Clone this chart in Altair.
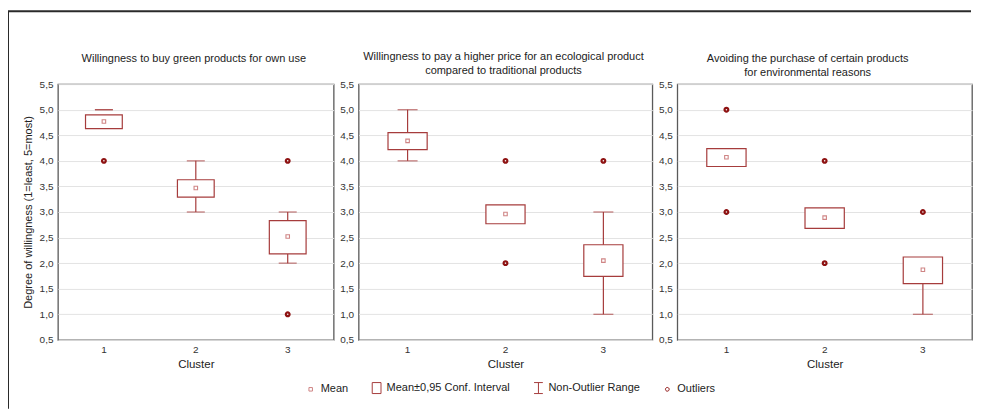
import altair as alt
import pandas as pd

FONT = "Liberation Sans"
RED = "#a63c3c"
MEAN_COL = "#cf8585"
OUT_COL = "#8e1212"

clusters = [1, 2, 3]

kinds = ["Mean", "Mean±0,95 Conf. Interval", "Non-Outlier Range", "Outliers"]
kind_shapes = [
    "M-0.32,-0.32H0.32V0.32H-0.32Z",
    "M-0.8,-1H0.8V1H-0.8Z",
    "M-0.8,-1H0.8M0,-1V1M-0.8,1H0.8",
    "M0.34,0A0.34,0.34 0 1,1 -0.34,0A0.34,0.34 0 1,1 0.34,0Z",
]
kind_colors = [MEAN_COL, RED, RED, OUT_COL]

y_ticks = [0.5, 1.0, 1.5, 2.0, 2.5, 3.0, 3.5, 4.0, 4.5, 5.0, 5.5]

# Panel 1
p1_title = ["Willingness to buy green products for own use"]
p1_mean = [4.77, 3.47, 2.52]
p1_ci_low = [4.63, 3.29, 2.18]
p1_ci_high = [4.90, 3.63, 2.83]
p1_range_low = [5.0, 3.0, 2.0]
p1_range_high = [5.0, 4.0, 3.0]
p1_out_cluster = [1, 3, 3]
p1_out_value = [4.0, 4.0, 1.0]

# Panel 2
p2_title = ["Willingness to pay a higher price for an ecological product",
            "compared to traditional products" + "\u00a0" * 5]
p2_mean = [4.39, 2.96, 2.05]
p2_ci_low = [4.22, 2.77, 1.74]
p2_ci_high = [4.55, 3.14, 2.36]
p2_range_low = [4.0, 3.0, 1.0]
p2_range_high = [5.0, 3.0, 3.0]
p2_out_cluster = [2, 2, 3]
p2_out_value = [4.0, 2.0, 4.0]

# Panel 3
p3_title = ["Avoiding the purchase of certain products",
            "for environmental reasons" + "\u00a0" * 8]
p3_mean = [4.07, 2.89, 1.87]
p3_ci_low = [3.89, 2.68, 1.60]
p3_ci_high = [4.24, 3.08, 2.12]
p3_range_low = [4.0, 3.0, 1.0]
p3_range_high = [4.0, 3.0, 2.0]
p3_out_cluster = [1, 1, 2, 2, 3]
p3_out_value = [5.0, 3.0, 4.0, 2.0, 3.0]

legend = alt.Legend(
    title=None, orient="none", legendX=247, legendY=298, direction="horizontal",
    columns=4, columnPadding=21, symbolSize=121, labelFontSize=11, labelFont=FONT,
    labelOffset=4, labelColor="#222", symbolStrokeWidth=1,
)


def panel(title, mean, lo, hi, rlo, rhi, oc, ov, width, cap, ytitle, toffset, tdx, frame=False):
    summ = pd.DataFrame({"cluster": clusters, "mean": mean, "lo": lo, "hi": hi,
                         "rlo": rlo, "rhi": rhi})
    pts = pd.DataFrame({"cluster": clusters + oc, "value": mean + ov,
                        "kind": ["Mean"] * len(clusters) + ["Outliers"] * len(oc)})
    xaxis = alt.Axis(title="Cluster", labelAngle=0, ticks=False, domain=False,
                     labelFontSize=10, labelPadding=5, labelColor="#333",
                     titleFontSize=11.5, titleFontWeight="normal", titleColor="#222",
                     titlePadding=4, labelFont=FONT, titleFont=FONT)
    xscale = alt.Scale(paddingInner=0.6, paddingOuter=0.3)
    x = alt.X("cluster:O", scale=xscale, axis=xaxis)
    yscale = alt.Scale(domain=[0.5, 5.5], nice=False, zero=False)
    yaxis_kw = dict(values=y_ticks, tickCount=11,
                    labelExpr="replace(format(datum.value, '.1f'), '.', ',')",
                    grid=True, gridColor="#e3e3e3", ticks=False, domain=False,
                    labelOverlap=False, labelBound=False, labelFlush=False,
                    labelFontSize=10, labelPadding=5, labelColor="#333", labelFont=FONT)
    if ytitle:
        yaxis = alt.Axis(title=ytitle, titleFontSize=11, titleFontWeight="normal",
                         titleColor="#222", titlePadding=6, titleFont=FONT, **yaxis_kw)
    else:
        yaxis = alt.Axis(title=None, **yaxis_kw)

    def Y(field):
        return alt.Y(field, scale=yscale, axis=yaxis)

    base = alt.Chart(summ)
    whisker = base.mark_rule(color=RED, strokeWidth=1.2).encode(
        x=x, y=Y("rlo:Q"), y2="rhi:Q")
    cap_lo = base.mark_tick(color=RED, size=cap, thickness=1.2).encode(x=x, y=Y("rlo:Q"))
    cap_hi = base.mark_tick(color=RED, size=cap, thickness=1.2).encode(x=x, y=Y("rhi:Q"))
    box = base.mark_bar(fill="white", stroke=RED, strokeWidth=1.2).encode(
        x=x, y=Y("lo:Q"), y2="hi:Q")
    points = alt.Chart(pts).mark_point(filled=False, size=121, opacity=1).encode(
        x=x, y=Y("value:Q"),
        shape=alt.Shape("kind:N", scale=alt.Scale(domain=kinds, range=kind_shapes), legend=legend),
        color=alt.Color("kind:N", scale=alt.Scale(domain=kinds, range=kind_colors), legend=legend),
        strokeWidth=alt.condition("datum.kind === 'Outliers'", alt.value(2.2), alt.value(1.1)),
    )
    layers = [whisker, cap_lo, cap_hi, box, points]
    if frame:
        fr = pd.DataFrame({"k": [0]})
        left = alt.Chart(fr).mark_rule(color="#2a2a2a", strokeWidth=2).encode(
            x=alt.value(-50), y=alt.value(-73), y2=alt.value(325))
        top = alt.Chart(fr).mark_rule(color="#2a2a2a", strokeWidth=2).encode(
            x=alt.value(-50), x2=alt.value(914), y=alt.value(-73))
        layers = layers + [left, top]
    return alt.layer(*layers).properties(
        width=width, height=256,
        title=alt.TitleParams(text=title, fontSize=11, fontWeight="normal", font=FONT,
                              color="#222", anchor="middle", offset=toffset, dx=tdx,
                              lineHeight=13.5, frame="group"),
    )


c1 = panel(p1_title, p1_mean, p1_ci_low, p1_ci_high, p1_range_low, p1_range_high,
           p1_out_cluster, p1_out_value, 276, 18, "Degree of willingness (1=least, 5=most)",
           -54, -2, frame=True)
c2 = panel(p2_title, p2_mean, p2_ci_low, p2_ci_high, p2_range_low, p2_range_high,
           p2_out_cluster, p2_out_value, 294, 20, None, 3.5, -2)
c3 = panel(p3_title, p3_mean, p3_ci_low, p3_ci_high, p3_range_low, p3_range_high,
           p3_out_cluster, p3_out_value, 295, 20, None, 1.5, -17)

chart = alt.hconcat(c1, c2, c3, spacing=25, bounds="flush").properties(
    padding={"left": -2, "top": 1, "right": 0, "bottom": 0}, background="white"
).configure_view(stroke="#5a5a5a", strokeWidth=1.3).configure_axis(
    labelOverlap=False
)

chart.save("out.html", embed_options={"renderer": "svg", "actions": False})
